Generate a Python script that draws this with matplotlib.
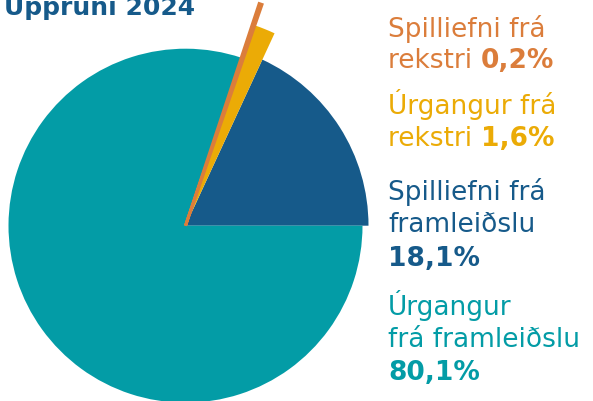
import matplotlib
matplotlib.use("Agg")
import matplotlib.pyplot as plt

# shares, counter-clockwise from 3 o'clock
names = ['Spilliefni frá framleiðslu', 'Úrgangur frá rekstri',
         'Spilliefni frá rekstri', 'Úrgangur frá framleiðslu']
shares = [18.1, 1.6, 0.2, 80.1]
colors = ['#165a8a', '#ebab06', '#db7d3b', '#039ca6']
radii = [183, 212, 234, 177]   # pixel radius of each wedge

title = 'Uppruni 2024'

# legend text lines: (regular part, bold part, color, baseline y in px from top)
label_lines = [
    ('Spilliefni frá', '', '#db7d3b', 37),
    ('rekstri ', '0,2%', '#db7d3b', 68),
    ('Úrgangur frá', '', '#ebab06', 114),
    ('rekstri ', '1,6%', '#ebab06', 146),
    ('Spilliefni frá', '', '#165a8a', 200),
    ('framleiðslu', '', '#165a8a', 232),
    ('', '18,1%', '#165a8a', 266),
    ('Úrgangur', '', '#039ca6', 315),
    ('frá framleiðslu', '', '#039ca6', 347),
    ('', '80,1%', '#039ca6', 380),
]

W, H = 593, 401
fig = plt.figure(figsize=(W / 100, H / 100), dpi=100)
ax = fig.add_axes([0, 0, 1, 1])
plt.rcParams['font.family'] = ['DejaVu Sans']

cx, cy = 185.5, H - 225.7
wedges, _ = ax.pie(shares, colors=colors, startangle=0, counterclock=True,
                   radius=177, center=(cx, cy),
                   wedgeprops=dict(linewidth=0))
for w, r, c in zip(wedges, radii, colors):
    w.set_radius(r)
wedges[2].set_linewidth(2.2)
wedges[2].set_edgecolor(colors[2])
wedges[2].set_zorder(3)
wedges[1].set_zorder(2)

ax.set_xlim(0, W)
ax.set_ylim(0, H)
ax.set_aspect('equal')
ax.axis('off')

ax.text(4, H - 15, title, fontsize=18, fontweight='bold', color='#165a8a',
        va='baseline', ha='left')

fs = 19
lx = 388
for reg, bold, col, y in label_lines:
    if reg:
        t = ax.text(lx, H - y, reg, fontsize=fs, color=col, va='baseline', ha='left')
        if bold:
            ax.annotate(bold, xy=(1, 0), xycoords=t, fontsize=fs, fontweight='bold',
                        color=col, va='bottom', ha='left')
    else:
        ax.text(lx, H - y, bold, fontsize=fs, fontweight='bold', color=col,
                va='baseline', ha='left')

fig.savefig('out.png', dpi=100)
